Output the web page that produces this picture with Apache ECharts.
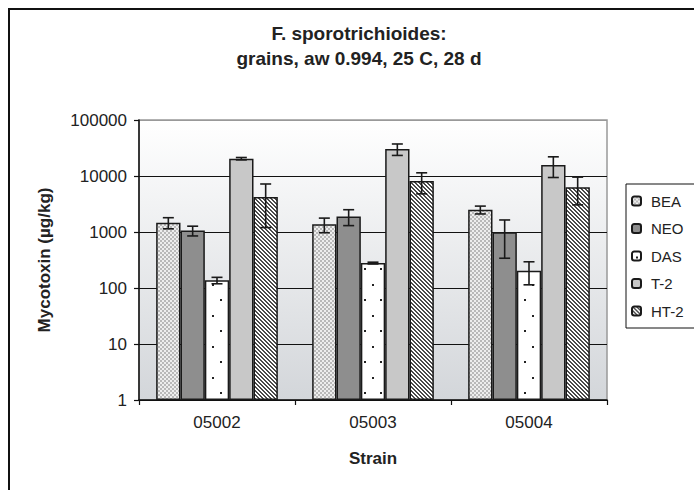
<!DOCTYPE html>
<html><head><meta charset="utf-8">
<script src="https://cdn.jsdelivr.net/npm/echarts@6/dist/echarts.min.js"></script>
<style>html,body{margin:0;padding:0;background:#fff}#c{width:694px;height:490px}</style>
</head><body><div id="c"></div>
<script>
// ---- data ----
var categories = ['05002', '05003', '05004'];
var seriesNames = ['BEA', 'NEO', 'DAS', 'T-2', 'HT-2'];
var BEA = [1470, 1370, 2500];
var BEA_err = [330, 400, 400];
var NEO = [1060, 1900, 990];
var NEO_err = [210, 600, 650];
var DAS = [137, 279, 204];
var DAS_err = [18, 10, 90];
var T2 = [20400, 30300, 15700];
var T2_err = [1000, 7000, 6300];
var HT2 = [4200, 8100, 6300];
var HT2_err = [3000, 3300, 3250];
var yTickLabels = ['1', '10', '100', '1000', '10000', '100000'];
var titleLines = ['F. sporotrichioides:', 'grains, aw 0.994, 25 C, 28 d'];

var values = [BEA, NEO, DAS, T2, HT2];
var errors = [BEA_err, NEO_err, DAS_err, T2_err, HT2_err];

// ---- patterns ----
function tile(w, h, draw) {
  var c = document.createElement('canvas'); c.width = w; c.height = h;
  var g = c.getContext('2d'); draw(g);
  return { image: c, repeat: 'repeat', imageWidth: w, imageHeight: h };
}
var pBEA = tile(4, 4, function (g) {
  g.fillStyle = '#eeeeee'; g.fillRect(0, 0, 4, 4);
  g.fillStyle = '#b9b9b9'; g.fillRect(0, 0, 2, 2); g.fillRect(2, 2, 2, 2);
});
var pDAS = tile(16, 31, function (g) {
  g.fillStyle = '#ffffff'; g.fillRect(0, 0, 16, 31);
  g.fillStyle = '#222222'; g.fillRect(4, 5, 2, 2); g.fillRect(12, 20, 2, 2);
});
var pHT2 = tile(4, 4, function (g) {
  g.fillStyle = '#ffffff'; g.fillRect(0, 0, 4, 4);
  g.fillStyle = '#4a4a4a';
  for (var i = 0; i < 4; i++) { g.fillRect(i, i, 1, 1); g.fillRect((i + 1) % 4, i, 1, 1); }
});
var fills = [pBEA, '#8e8e8e', pDAS, '#c8c8c8', pHT2];

var CAT_GAP = 0.22;
var FONT = '"Liberation Sans", Arial, sans-serif';

var series = [];
seriesNames.forEach(function (n, i) {
  series.push({
    type: 'bar', name: n, data: values[i],
    barGap: '0%', barCategoryGap: (CAT_GAP * 100) + '%',
    itemStyle: { color: fills[i], borderColor: '#1a1a1a', borderWidth: 1.5 },
    emphasis: { disabled: true }, animation: false
  });
});
seriesNames.forEach(function (n, i) {
  series.push({
    type: 'custom', name: n + ' err', z: 10, animation: false,
    data: categories.map(function (c, j) { return [j, values[i][j], errors[i][j]]; }),
    encode: { x: 0, y: 1 },
    renderItem: function (params, api) {
      var j = api.value(0), v = api.value(1), e = api.value(2);
      var band = api.size([1, 1])[0];
      var bw = band * (1 - CAT_GAP) / seriesNames.length;
      var x = api.coord([j, v])[0] - band * (1 - CAT_GAP) / 2 + bw * (i + 0.5);
      var yT = api.coord([j, v + e])[1];
      var yB = api.coord([j, Math.max(v - e, 1)])[1];
      var cap = 5.5;
      var st = { stroke: '#1a1a1a', lineWidth: 1.6 };
      return { type: 'group', children: [
        { type: 'line', shape: { x1: x, y1: yT, x2: x, y2: yB }, style: st },
        { type: 'line', shape: { x1: x - cap, y1: yT, x2: x + cap, y2: yT }, style: st },
        { type: 'line', shape: { x1: x - cap, y1: yB, x2: x + cap, y2: yB }, style: st }
      ]};
    }
  });
});

var chart = echarts.init(document.getElementById('c'), null, { renderer: 'svg' });
chart.setOption({
  animation: false,
  backgroundColor: '#ffffff',
  textStyle: { fontFamily: FONT },
  graphic: [
    { type: 'rect', z: -10, shape: { x: 9, y: 9, width: 720, height: 520 },
      style: { fill: 'none', stroke: '#111', lineWidth: 2 } },
    { type: 'text', x: 359, y: 33, style: { text: titleLines[0], align: 'center', verticalAlign: 'middle',
      font: 'bold 19px ' + FONT, fill: '#222' } },
    { type: 'text', x: 359, y: 58, style: { text: titleLines[1], align: 'center', verticalAlign: 'middle',
      font: 'bold 19px ' + FONT, fill: '#222' } }
  ],
  grid: { left: 139, right: 87, top: 120, bottom: 90, show: true, borderColor: '#999', borderWidth: 1.5,
    backgroundColor: { type: 'linear', x: 0, y: 0, x2: 0, y2: 1,
      colorStops: [{ offset: 0, color: '#ffffff' }, { offset: 1, color: '#d3d6da' }] } },
  legend: {
    orient: 'vertical', left: 626, top: 184,
    data: seriesNames, itemWidth: 9, itemHeight: 9, itemGap: 11.5,
    padding: [9, 40, 9, 5], borderColor: '#111', borderWidth: 1, backgroundColor: '#fff',
    textStyle: { fontSize: 15, color: '#222', lineHeight: 16, padding: [0, 0, 0, 5], fontFamily: FONT },
    selectedMode: false
  },
  xAxis: {
    type: 'category', data: categories,
    axisLine: { lineStyle: { color: '#111', width: 1.5 } },
    axisTick: { show: true, length: 5, lineStyle: { color: '#111', width: 1.2 } },
    axisLabel: { fontSize: 17, color: '#222', margin: 14 },
    name: 'Strain', nameLocation: 'middle', nameGap: 50,
    nameTextStyle: { fontSize: 17, fontWeight: 'bold', color: '#222' }
  },
  yAxis: {
    type: 'log', logBase: 10, min: 1, max: 100000, splitNumber: 5,
    axisLine: { show: true, lineStyle: { color: '#111', width: 1.5 } },
    axisTick: { show: true, length: 5, lineStyle: { color: '#111', width: 1.2 } },
    axisLabel: { fontSize: 17, color: '#222', margin: 12,
      formatter: function (v) { var k = Math.round(Math.log10(v)); return yTickLabels[k]; } },
    splitLine: { show: true, lineStyle: { color: ['#111', '#111', '#111', '#111', '#111', '#999'], width: 1.2 } },
    minorTick: { show: false },
    name: 'Mycotoxin (µg/kg)', nameLocation: 'middle', nameGap: 86,
    nameTextStyle: { fontSize: 17, fontWeight: 'bold', color: '#222' }
  },
  series: series
});
</script></body></html>
